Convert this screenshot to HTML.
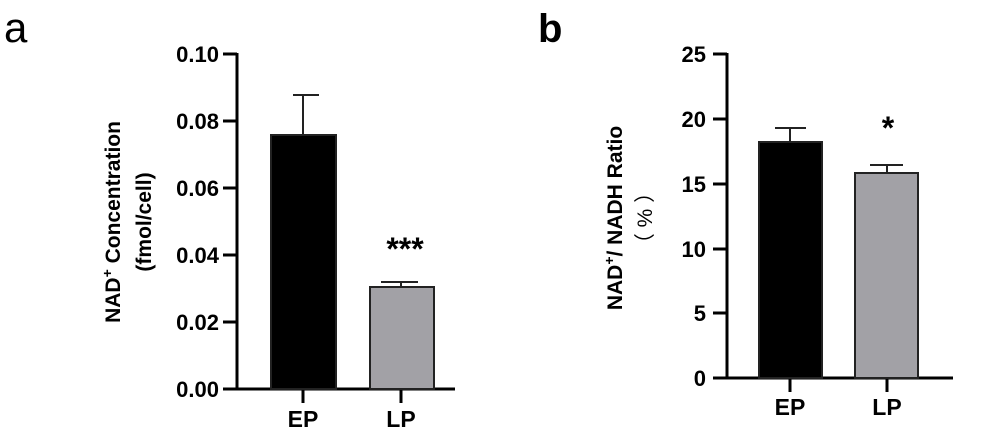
<!DOCTYPE html>
<html><head><style>body{margin:0;background:#fff}</style></head><body>
<svg width="982" height="442" xmlns="http://www.w3.org/2000/svg" font-family="Liberation Sans, sans-serif">
<rect width="982" height="442" fill="#fff"/>
<text x="4" y="42" font-size="42">a</text>
<text x="538" y="42" font-size="40" font-weight="bold">b</text>
<g stroke="#000" stroke-width="3" fill="none">
<line x1="237" y1="53" x2="237" y2="390"/>
<line x1="236" y1="389" x2="455" y2="389"/>
<line x1="223" y1="54" x2="237" y2="54"/><line x1="223" y1="121" x2="237" y2="121"/><line x1="223" y1="188" x2="237" y2="188"/><line x1="223" y1="255" x2="237" y2="255"/><line x1="223" y1="322" x2="237" y2="322"/><line x1="223" y1="389" x2="237" y2="389"/>
<line x1="303" y1="389" x2="303" y2="403"/><line x1="401" y1="389" x2="401" y2="403"/>
<line x1="727" y1="53" x2="727" y2="379"/>
<line x1="726" y1="378" x2="953" y2="378"/>
<line x1="713" y1="54" x2="727" y2="54"/><line x1="713" y1="119" x2="727" y2="119"/><line x1="713" y1="184" x2="727" y2="184"/><line x1="713" y1="249" x2="727" y2="249"/><line x1="713" y1="313" x2="727" y2="313"/><line x1="713" y1="378" x2="727" y2="378"/>
<line x1="790" y1="378" x2="790" y2="392"/><line x1="887" y1="378" x2="887" y2="392"/>
</g>
<g stroke="#222" stroke-width="2">
<rect x="271" y="135" width="65" height="254" fill="#000"/>
<rect x="370" y="287" width="64" height="102" fill="#a2a1a6"/>
<rect x="759" y="142" width="63" height="236" fill="#000"/>
<rect x="855" y="173" width="63" height="205" fill="#a2a1a6"/>
<line x1="303" y1="135" x2="303" y2="95"/><line x1="293" y1="95" x2="319" y2="95"/>
<line x1="401" y1="287" x2="401" y2="282"/><line x1="381" y1="282" x2="418" y2="282"/>
<line x1="790" y1="142" x2="790" y2="128"/><line x1="775" y1="128" x2="806" y2="128"/>
<line x1="887" y1="173" x2="887" y2="165"/><line x1="870" y1="165" x2="903" y2="165"/>
</g>
<g font-size="22" font-weight="bold" text-anchor="end">
<text x="219" y="62">0.10</text><text x="219" y="129">0.08</text><text x="219" y="196">0.06</text><text x="219" y="263">0.04</text><text x="219" y="330">0.02</text><text x="219" y="397">0.00</text>
<text x="706" y="62">25</text><text x="706" y="127">20</text><text x="706" y="192">15</text><text x="706" y="257">10</text><text x="706" y="321">5</text><text x="706" y="386">0</text>
</g>
<g font-size="23" font-weight="bold" text-anchor="middle">
<text x="303" y="427">EP</text><text x="401" y="427">LP</text>
<text x="790" y="415">EP</text><text x="887" y="415">LP</text>
<text x="405" y="260" font-size="32">***</text>
<text x="888" y="139" font-size="32">*</text>
</g>
<g font-size="21" font-weight="bold" text-anchor="middle">
<text transform="translate(120,222) rotate(-90)">NAD<tspan dy="-8" font-size="14">+</tspan><tspan dy="8"> Concentration</tspan></text>
<text transform="translate(151,222) rotate(-90)">(fmol/cell)</text>
<text transform="translate(622,218) rotate(-90)">NAD<tspan dy="-8" font-size="14">+</tspan><tspan dy="8">/ NADH Ratio</tspan></text>
<text transform="translate(652,218) rotate(-90)" font-weight="normal">（ % ）</text>
</g>
</svg>
</body></html>
